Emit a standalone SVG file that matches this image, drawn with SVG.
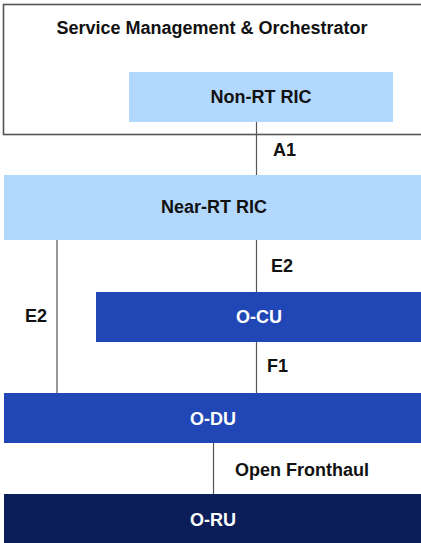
<svg xmlns="http://www.w3.org/2000/svg" width="421" height="543" viewBox="0 0 421 543">
<style>
text{font-family:"Liberation Sans",Arial,sans-serif;font-weight:bold;font-size:18px;fill:#111}
.c{text-anchor:middle}
.w{fill:#fff}
.ln{stroke:#555;stroke-width:1.2;fill:none}
</style>
<rect width="421" height="543" fill="#fff"/>
<g id="smo">
<rect x="3.5" y="4.5" width="425" height="130" fill="#fff" stroke="#555" stroke-width="1.6"/>
<text x="212" y="34" class="c">Service Management &amp; Orchestrator</text>
</g>
<g id="nonrt">
<rect x="129" y="72" width="264" height="50" fill="#b3d8fd"/>
<text x="261" y="103" class="c">Non-RT RIC</text>
</g>
<g id="connectors">
<line class="ln" x1="256.5" y1="122" x2="256.5" y2="175"/>
<line class="ln" x1="256.5" y1="240" x2="256.5" y2="292"/>
<line class="ln" x1="57" y1="240" x2="57" y2="393"/>
<line class="ln" x1="256.5" y1="342" x2="256.5" y2="393"/>
<line class="ln" x1="213.5" y1="443" x2="213.5" y2="494"/>
<text x="273" y="156">A1</text>
<text x="271" y="272">E2</text>
<text x="25" y="322">E2</text>
<text x="267" y="372">F1</text>
<text x="235" y="476">Open Fronthaul</text>
</g>
<g id="nearrt">
<rect x="4" y="175" width="417" height="65" fill="#b3d8fd"/>
<text x="214" y="213" class="c">Near-RT RIC</text>
</g>
<g id="ocu">
<rect x="96" y="292" width="325" height="50" fill="#2047b5"/>
<text x="259" y="323" class="c w">O-CU</text>
</g>
<g id="odu">
<rect x="4" y="393" width="417" height="50" fill="#2047b5"/>
<text x="213" y="425" class="c w">O-DU</text>
</g>
<g id="oru">
<rect x="4" y="494" width="417" height="49" fill="#0b1e5a"/>
<text x="213" y="526" class="c w">O-RU</text>
</g>
</svg>
